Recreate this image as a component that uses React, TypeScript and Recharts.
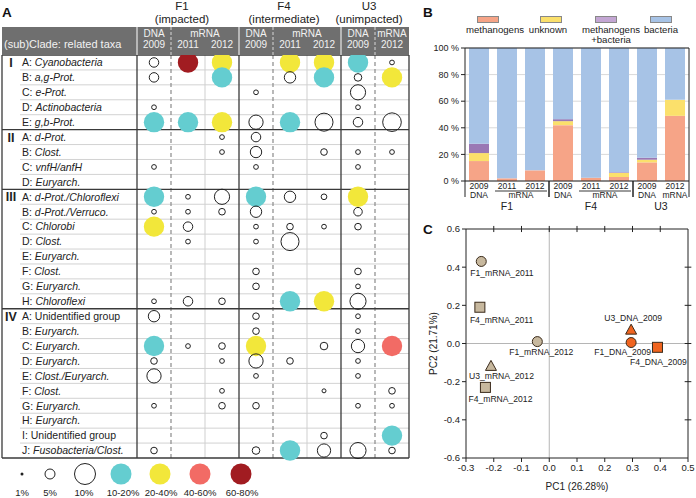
import React from 'react';
import {
  ScatterChart, Scatter, BarChart, Bar, XAxis, YAxis, CartesianGrid, ReferenceLine, Legend,
} from 'recharts';

const FONT = '"Liberation Sans", Arial, Helvetica, sans-serif';
const INK = '#222';

// ---------- panel A: bubble table ----------
const clades = ['I', 'II', 'III', 'IV'];
const cladeSizes = [5, 4, 8, 10];
const taxonIds = [
  'A', 'B', 'C', 'D', 'E',
  'A', 'B', 'C', 'D',
  'A', 'B', 'C', 'D', 'E', 'F', 'G', 'H',
  'A', 'B', 'C', 'D', 'E', 'F', 'G', 'H', 'I', 'J',
];
const taxonNames = [
  'Cyanobacteria', 'a,g-Prot.', 'e-Prot.', 'Actinobacteria', 'g,b-Prot.',
  'd-Prot.', 'Clost.', 'vnfH/anfH', 'Euryarch.',
  'd-Prot./Chloroflexi', 'd-Prot./Verruco.', 'Chlorobi', 'Clost.', 'Euryarch.', 'Clost.', 'Euryarch.', 'Chloroflexi',
  'Unidentified group', 'Euryarch.', 'Euryarch.', 'Euryarch.', 'Clost./Euryarch.', 'Clost.', 'Euryarch.', 'Euryarch.',
  'Unidentified group', 'Fusobacteria/Clost.',
];

const sites = ['F1', 'F4', 'U3'];
const siteStatus = ['(impacted)', '(intermediate)', '(unimpacted)'];
const sampleSites = ['F1', 'F1', 'F1', 'F4', 'F4', 'F4', 'U3', 'U3'];
const sampleTypes = ['DNA', 'mRNA', 'mRNA', 'DNA', 'mRNA', 'mRNA', 'DNA', 'mRNA'];
const sampleYears = ['2009', '2011', '2012', '2009', '2011', '2012', '2009', '2012'];

// relative abundance (%) per taxon, one list per sample column
const f1Dna2009 = [5, 5, 0, 2.5, 15, 0, 0, 2.5, 0, 15, 2.5, 30, 0, 0, 0, 0, 2.5, 6, 0, 15, 3.5, 7.5, 0, 2.5, 0, 0, 3.5];
const f1Rna2011 = [70, 0, 0, 0, 15, 0, 0, 0, 0, 2.5, 2.5, 5, 2.5, 0, 0, 0, 5, 0, 0, 2.5, 0, 0, 0, 0, 0, 0, 0];
const f1Rna2012 = [30, 15, 0, 0, 30, 2.5, 2.5, 0, 0, 8, 3.5, 0, 0, 0, 0, 0, 3.5, 0, 0, 3.5, 2.5, 0, 2.5, 3.5, 0, 0, 0];
const f4Dna2009 = [0, 0, 2.5, 0, 7.5, 5, 6, 2.5, 0, 15, 6, 2.5, 2.5, 0, 3.5, 3.5, 0, 3.5, 3.5, 30, 7.5, 2.5, 0, 3.5, 0, 0, 4];
const f4Rna2011 = [30, 6, 0, 0, 15, 0, 0, 0, 0, 6, 0, 3.5, 9.5, 0, 0, 0, 15, 0, 0, 0, 3.5, 0, 0, 0, 0, 0, 15];
const f4Rna2012 = [30, 15, 0, 0, 9.5, 0, 3.5, 0, 0, 3, 0, 2.5, 0, 0, 0, 0, 30, 0, 0, 4, 0, 0, 2, 0, 0, 3.5, 7];
const u3Dna2009 = [15, 4, 8, 2.5, 5, 0, 2.5, 2.5, 0, 30, 4.5, 3.5, 0, 0, 3.5, 2.5, 8.5, 2.5, 2.5, 7, 2.5, 2.5, 0, 2.5, 0, 0, 8.5];
const u3Rna2012 = [2.5, 30, 0, 0, 9.8, 0, 2.5, 0, 0, 0, 0, 0, 0, 0, 0, 0, 0, 0, 0, 50, 0, 0, 3.5, 2.5, 0, 15, 3.5];
const sampleColumns = [f1Dna2009, f1Rna2011, f1Rna2012, f4Dna2009, f4Rna2011, f4Rna2012, u3Dna2009, u3Rna2012];

const sizeLegend = [1, 5, 10];
const classLegend = ['10-20%', '20-40%', '40-60%', '60-80%'];
const classColors = ['#64cdd0', '#f2e73a', '#f26b65', '#a11c21'];

// ---------- panel B: stacked bars ----------
const bYears = ['2009', '2011', '2012', '2009', '2011', '2012', '2009', '2012'];
const bTypes = ['DNA', 'mRNA', 'mRNA', 'DNA', 'mRNA', 'mRNA', 'DNA', 'mRNA'];
const bSites = ['F1', 'F1', 'F1', 'F4', 'F4', 'F4', 'U3', 'U3'];
const methanogens = [15, 2, 8, 42, 2.5, 3, 14, 49];
const unknown = [6, 0, 0, 3, 0, 3, 2, 12];
const methanogensBacteria = [7, 0, 0, 1.5, 0, 0.5, 1.5, 0];
const bacteria = [72, 98, 92, 53.5, 97.5, 93.5, 82.5, 39];
const bGroups = ['methanogens', 'unknown', 'methanogens +bacteria', 'bacteria'];
const bPercentTicks = [0, 20, 40, 60, 80, 100];

// ---------- panel C: PCA ----------
const pcaNames = ['F1_mRNA_2011', 'F4_mRNA_2011', 'F1_mRNA_2012', 'U3_DNA_2009', 'F1_DNA_2009', 'F4_DNA_2009', 'U3_mRNA_2012', 'F4_mRNA_2012'];
const pc1 = [-0.245, -0.25, -0.043, 0.295, 0.295, 0.39, -0.21, -0.23];
const pc2 = [0.43, 0.19, 0.01, 0.07, 0.005, -0.02, -0.12, -0.23];
const pc1Ticks = [-0.3, -0.2, -0.1, 0, 0.1, 0.2, 0.3, 0.4, 0.5];
const pc2Ticks = [-0.6, -0.4, -0.2, 0, 0.2, 0.4, 0.6];
const pc1FrameTicks = [-0.2, -0.1, 0, 0.1, 0.2, 0.3, 0.4];
const pc2FrameTicks = [-0.4, -0.2, 0, 0.2, 0.4];

// ---------- layout / styling ----------
const A_W = 412;
const A_H = 498;
const A_TOP = 55;
const A_BOTTOM = 40;
const A_LEFT = 2;
const A_RIGHT = 3;
const COL_PX = 34;
const LABEL_LEFT = -0.5 - 135 / COL_PX; // label column expressed in column units
const ROW_LINE_LEFT = LABEL_LEFT + 18 / COL_PX;
const colPx = (c: number) => A_LEFT + (c - LABEL_LEFT) * COL_PX;

const cladeStart: Record<number, string> = {};
let acc = 0;
clades.forEach((c, i) => { cladeStart[acc] = c; acc += cladeSizes[i]; });
const sectionBreaks = [5, 9, 17].map((r) => r - 0.5);

const cells = sampleColumns.flatMap((col, c) =>
  col.map((value, row) => ({ col: c, row, value })).filter((d) => d.value > 0)
);
const rowTicks = taxonNames.map((_, i) => i);

const classColor = (v: number) => (v >= 60 ? classColors[3] : v >= 40 ? classColors[2] : v >= 20 ? classColors[1] : classColors[0]);

const Bubble = (props: any) => {
  const { cx, cy, payload } = props;
  const v = payload.value;
  if (v >= 10) return <circle cx={cx} cy={cy} r={10.2} fill={classColor(v)} />;
  return <circle cx={cx} cy={cy} r={Math.max(2, v * 0.95)} fill="none" stroke={INK} strokeWidth={1} />;
};

const RowLabel = (props: any) => {
  const { y, payload } = props;
  const i = payload.value as number;
  const clade = cladeStart[i];
  const plain = taxonNames[i] === 'Unidentified group';
  return (
    <g>
      {clade && (
        <text x={11} y={y} dy={4.5} textAnchor="middle" fontWeight="bold" fontSize={12.5} fill={INK} fontFamily={FONT}>
          {clade}
        </text>
      )}
      <text x={22} y={y} dy={3.8} textAnchor="start" fontSize={10.5} fill={INK} fontFamily={FONT}>
        <tspan>{`${taxonIds[i]}: `}</tspan>
        <tspan fontStyle={plain ? 'normal' : 'italic'}>{taxonNames[i]}</tspan>
      </text>
    </g>
  );
};

function PanelA() {
  const rowLines = rowTicks.slice(0, -1).map((r) => r + 0.5).filter((y) => !sectionBreaks.includes(y));
  const headerTop = 27;
  const headerBottom = A_TOP;
  const siteCols = sites.map((s) => sampleSites.map((x, i) => (x === s ? i : -1)).filter((i) => i >= 0));
  return (
    <div style={{ position: 'relative', width: A_W, height: A_H }}>
      <ScatterChart width={A_W} height={A_H} margin={{ top: A_TOP, right: A_RIGHT, bottom: A_BOTTOM, left: A_LEFT }}>
        <XAxis type="number" dataKey="col" domain={[LABEL_LEFT, 7.5]} hide />
        <YAxis
          type="number"
          dataKey="row"
          domain={[-0.5, 26.5]}
          reversed
          ticks={rowTicks}
          interval={0}
          width={1}
          mirror
          axisLine={false}
          tickLine={false}
          tick={RowLabel}
        />
        {rowLines.map((y) => (
          <ReferenceLine key={`r${y}`} segment={[{ x: ROW_LINE_LEFT, y }, { x: 7.5, y }]} stroke="#d2d2d2" strokeWidth={1} />
        ))}
        {[1.5, 4.5].map((x) => (
          <ReferenceLine key={`g${x}`} x={x} stroke="#cfcfcf" strokeWidth={1} />
        ))}
        {[0.5, 3.5, 6.5].map((x) => (
          <ReferenceLine key={`d${x}`} x={x} stroke="#8a8a8a" strokeWidth={1.2} strokeDasharray="4 3" />
        ))}
        {[LABEL_LEFT, -0.5, 2.5, 5.5, 7.5].map((x) => (
          <ReferenceLine key={`v${x}`} x={x} stroke="#3a3a3a" strokeWidth={1.3} />
        ))}
        {[-0.5, ...sectionBreaks, 26.5].map((y) => (
          <ReferenceLine key={`s${y}`} y={y} stroke="#3a3a3a" strokeWidth={1.3} />
        ))}
        <Scatter data={cells} shape={Bubble} isAnimationActive={false} />
      </ScatterChart>

      <svg width={A_W} height={A_H} style={{ position: 'absolute', left: 0, top: 0, pointerEvents: 'none' }} fontFamily={FONT}>
        <rect x={A_LEFT} y={headerTop} width={colPx(7.5) - A_LEFT} height={headerBottom - headerTop} fill="#6f6f6f" />
        {[-0.5, 2.5, 5.5].map((c) => (
          <line key={c} x1={colPx(c)} x2={colPx(c)} y1={headerTop} y2={headerBottom} stroke="#e8e8e8" strokeWidth={1.2} />
        ))}
        {[0.5, 3.5, 6.5].map((c) => (
          <line key={c} x1={colPx(c)} x2={colPx(c)} y1={headerTop} y2={headerBottom} stroke="#d8d8d8" strokeWidth={1} strokeDasharray="3 2" />
        ))}
        <text x={4} y={48} fontSize={11} fill="#f2f2f2">(sub)Clade: related taxa</text>
        {sampleTypes.map((t, i) => {
          const next = sampleTypes[i + 1] === t && sampleSites[i + 1] === sampleSites[i];
          const prev = sampleTypes[i - 1] === t && sampleSites[i - 1] === sampleSites[i];
          const x = colPx(i);
          return (
            <g key={i} fill="#f2f2f2" fontSize={10} textAnchor="middle">
              {!prev && <text x={next ? x + COL_PX / 2 : x} y={37}>{t}</text>}
              <text x={x} y={47.5}>{sampleYears[i]}</text>
            </g>
          );
        })}
        {sites.map((s, k) => {
          const cols = siteCols[k];
          const cx = (colPx(cols[0] - 0.5) + colPx(cols[cols.length - 1] + 0.5)) / 2 - 6;
          return (
            <g key={s} textAnchor="middle" fill={INK} fontSize={11.5}>
              <text x={cx} y={9.5}>{s}</text>
              <text x={cx} y={23}>{siteStatus[k]}</text>
            </g>
          );
        })}

        {/* size / class legend */}
        <g fontSize={9.5} fill={INK} textAnchor="middle">
          <circle cx={22} cy={474} r={1.5} fill={INK} />
          <circle cx={50} cy={474} r={5} fill="none" stroke={INK} />
          <circle cx={85} cy={474} r={10.5} fill="none" stroke={INK} />
          {sizeLegend.map((s, i) => (
            <text key={s} x={[22, 50, 84][i]} y={496}>{`${s}%`}</text>
          ))}
          {classLegend.map((l, i) => (
            <g key={l}>
              <circle cx={[121, 160, 200, 241][i]} cy={474} r={10.5} fill={classColors[i]} />
              <text x={[123, 161, 200, 242][i]} y={496}>{l}</text>
            </g>
          ))}
        </g>
      </svg>
    </div>
  );
}

// ---------- panel B ----------
const B_W = 276;
const B_H = 215;
const B_MARGIN = { top: 48, right: 7, bottom: 0, left: 0 };
const B_YAXIS_W = 45;
const B_XAXIS_H = 34;
const B_BAND = (B_W - B_MARGIN.left - B_MARGIN.right - B_YAXIS_W) / bYears.length;
const B_AXIS_Y = B_H - B_MARGIN.bottom - B_XAXIS_H;

const bData = bYears.map((year, i) => ({
  key: `${bSites[i]} ${bTypes[i]} ${year}`,
  methanogens: methanogens[i],
  unknown: unknown[i],
  both: methanogensBacteria[i],
  bacteria: bacteria[i],
}));

const bColors = ['#f6a487', '#fbe06b', '#9a78b4', '#a7c3e6'];
const bLegendColors = ['#f6a487', '#fbe06b', '#c3a6d3', '#a7c3e6'];

const BTick = (props: any) => {
  const { x, index } = props;
  const i = index as number;
  const y0 = B_AXIS_Y;
  const site = bSites[i];
  const firstOfSite = i === 0 || bSites[i - 1] !== site;
  const lastOfSite = i === bSites.length - 1 || bSites[i + 1] !== site;
  const isLast = i === bSites.length - 1;
  const siteCount = bSites.filter((s) => s === site).length;
  const pairNext = bTypes[i + 1] === bTypes[i] && bSites[i + 1] === site;
  const pairPrev = bTypes[i - 1] === bTypes[i] && bSites[i - 1] === site;
  return (
    <g fontFamily={FONT} fill={INK} textAnchor="middle">
      <text x={x} y={y0 + 8} fontSize={8.5}>{bYears[i]}</text>
      {!pairPrev && (
        <text x={pairNext ? x + B_BAND / 2 : x} y={y0 + 17} fontSize={8.5}>{bTypes[i]}</text>
      )}
      {pairNext && (
        <line x1={x - 12} x2={x + B_BAND + 12} y1={y0 + 10} y2={y0 + 10} stroke={INK} strokeWidth={0.9} />
      )}
      {firstOfSite && (
        <>
          <text x={x + ((siteCount - 1) / 2) * B_BAND} y={y0 + 29} fontSize={10.5}>{site}</text>
          <line x1={x - B_BAND / 2} x2={x - B_BAND / 2} y1={y0} y2={y0 + 16} stroke={INK} strokeWidth={1} />
        </>
      )}
      {lastOfSite && (
        <line
          x1={x + B_BAND / 2}
          x2={x + B_BAND / 2}
          y1={isLast ? B_MARGIN.top : y0}
          y2={y0 + 16}
          stroke={INK}
          strokeWidth={1}
        />
      )}
    </g>
  );
};

const legendBoxX = [57, 120, 175, 230];
const legendTextX = [75, 128, 191, 241];

const BLegend = () => (
  <div style={{ position: 'relative', width: B_W, height: 44, fontFamily: FONT, fontSize: 9.6, color: INK }}>
    {bGroups.map((g, i) => {
      const lines = g.split(' +');
      return (
        <React.Fragment key={g}>
          <div
            style={{
              position: 'absolute', left: legendBoxX[i], top: 16, width: 22, height: 7,
              background: bLegendColors[i], border: '1px solid #888', boxSizing: 'border-box',
            }}
          />
          <div style={{ position: 'absolute', left: legendTextX[i] - 40, top: 25, width: 80, textAlign: 'center', lineHeight: '9.5px' }}>
            {lines.map((l, k) => (
              <div key={l}>{k > 0 ? `+${l}` : l}</div>
            ))}
          </div>
        </React.Fragment>
      );
    })}
  </div>
);

const bKeys = ['methanogens', 'unknown', 'both', 'bacteria'];

function PanelB() {
  return (
    <BarChart width={B_W} height={B_H} data={bData} margin={B_MARGIN} barSize={20}>
      <CartesianGrid vertical={false} stroke="#d9d9d9" />
      <XAxis dataKey="key" height={B_XAXIS_H} interval={0} tickLine={false} axisLine={{ stroke: INK }} tick={BTick} />
      <YAxis
        domain={[0, 100]}
        ticks={bPercentTicks}
        width={B_YAXIS_W}
        tickFormatter={(v: number) => `${v} %`}
        tick={{ fontSize: 9, fill: INK, fontFamily: FONT }}
        tickSize={4}
        tickMargin={2}
        axisLine={{ stroke: INK }}
        tickLine={{ stroke: INK }}
      />
      <ReferenceLine y={100} stroke={INK} />
      <Legend
        verticalAlign="middle"
        align="center"
        layout="horizontal"
        wrapperStyle={{ position: 'absolute', left: 0, top: 0, width: B_W, height: 44 }}
        content={BLegend}
      />
      {bKeys.map((k, i) => (
        <Bar key={k} dataKey={k} name={bGroups[i]} stackId="s" fill={bColors[i]} isAnimationActive={false} />
      ))}
    </BarChart>
  );
}

// ---------- panel C ----------
const pcaData = pcaNames.map((name, i) => ({ name, x: pc1[i], y: pc2[i] }));
const pcaLabelPlacement: Record<string, { dx: number; dy: number; anchor: string }> = {
  F1_mRNA_2011: { dx: -11, dy: 15, anchor: 'start' },
  F4_mRNA_2011: { dx: -10, dy: 15.5, anchor: 'start' },
  F1_mRNA_2012: { dx: 4, dy: 13.5, anchor: 'middle' },
  U3_DNA_2009: { dx: 2, dy: -9.5, anchor: 'middle' },
  F1_DNA_2009: { dx: 20, dy: 12.5, anchor: 'end' },
  F4_DNA_2009: { dx: 1, dy: 17.5, anchor: 'middle' },
  U3_mRNA_2012: { dx: -22, dy: 12.5, anchor: 'start' },
  F4_mRNA_2012: { dx: -17, dy: 14.5, anchor: 'start' },
};

const PcaMarker = (props: any) => {
  const { cx, cy, payload } = props;
  const [site, type] = String(payload.name).split('_');
  const fill = type === 'DNA' ? '#f0641f' : '#c7b89e';
  const stroke = '#3a2a1a';
  const lab = pcaLabelPlacement[payload.name];
  let marker;
  if (site === 'F1') marker = <circle cx={cx} cy={cy} r={5} fill={fill} stroke={stroke} strokeWidth={1} />;
  else if (site === 'F4') marker = <rect x={cx - 5} y={cy - 5} width={10} height={10} fill={fill} stroke={stroke} strokeWidth={1} />;
  else marker = <polygon points={`${cx},${cy - 6} ${cx + 5.5},${cy + 4} ${cx - 5.5},${cy + 4}`} fill={fill} stroke={stroke} strokeWidth={1} />;
  return (
    <g>
      {marker}
      <text x={cx + lab.dx} y={cy + lab.dy} textAnchor={lab.anchor as any} fontSize={8.6} fill={INK} fontFamily={FONT}>
        {payload.name}
      </text>
    </g>
  );
};

const fmt1 = (v: number) => v.toFixed(1);
const C_TICK_DX = 0.012; // ~3px in PC1 units
const C_TICK_DY = 0.016; // ~3px in PC2 units

function PanelC() {
  return (
    <ScatterChart width={276} height={283} margin={{ top: 14, right: 8, bottom: 0, left: 0 }}>
      <XAxis
        type="number"
        dataKey="x"
        domain={[-0.3, 0.5]}
        ticks={pc1Ticks}
        interval={0}
        height={40}
        tickSize={4}
        tickMargin={2}
        tickFormatter={fmt1}
        tick={{ fontSize: 9.5, fill: INK, fontFamily: FONT }}
        axisLine={{ stroke: INK }}
        tickLine={{ stroke: INK }}
        label={{ value: 'PC1 (26.28%)', position: 'insideBottom', offset: 8, fontSize: 10, fill: INK, fontFamily: FONT }}
      />
      <YAxis
        type="number"
        dataKey="y"
        domain={[-0.6, 0.6]}
        ticks={pc2Ticks}
        interval={0}
        width={46}
        tickSize={4}
        tickMargin={2}
        tickFormatter={fmt1}
        tick={{ fontSize: 9.5, fill: INK, fontFamily: FONT }}
        axisLine={{ stroke: INK }}
        tickLine={{ stroke: INK }}
        label={(p: any) => {
          const vb = p.viewBox || {};
          const cx = (vb.x ?? 0) + 13;
          const cy = (vb.y ?? 0) + (vb.height ?? 0) / 2;
          return (
            <text x={cx} y={cy} transform={`rotate(-90 ${cx} ${cy})`} textAnchor="middle" dominantBaseline="central" fontSize={10} fill={INK} fontFamily={FONT}>
              PC2 (21.71%)
            </text>
          );
        }}
      />
      <ReferenceLine x={0} stroke="#b5b5b5" />
      <ReferenceLine y={0} stroke="#b5b5b5" />
      {/* frame: top and right edges with their tick marks */}
      <ReferenceLine y={0.6} stroke={INK} />
      <ReferenceLine x={0.5} stroke={INK} />
      {pc1FrameTicks.map((t) => (
        <ReferenceLine
          key={`tx${t}`}
          ifOverflow="visible"
          segment={[{ x: t, y: 0.6 - C_TICK_DY }, { x: t, y: 0.6 + C_TICK_DY }]}
          stroke={INK}
        />
      ))}
      {pc2FrameTicks.map((t) => (
        <ReferenceLine
          key={`ty${t}`}
          ifOverflow="visible"
          segment={[{ x: 0.5 - C_TICK_DX, y: t }, { x: 0.5 + C_TICK_DX, y: t }]}
          stroke={INK}
        />
      ))}
      <Scatter data={pcaData} shape={PcaMarker} isAnimationActive={false} />
    </ScatterChart>
  );
}

export default function App() {
  return (
    <div style={{ position: 'absolute', left: 0, top: 0, width: 696, height: 498, background: '#fff', overflow: 'hidden', fontFamily: FONT }}>
      <div style={{ position: 'absolute', left: 0, top: 0 }}>
        <PanelA />
      </div>
      <div style={{ position: 'absolute', left: 420, top: 0 }}>
        <PanelB />
      </div>
      <div style={{ position: 'absolute', left: 420, top: 215 }}>
        <PanelC />
      </div>
      <svg width={696} height={498} style={{ position: 'absolute', left: 0, top: 0, pointerEvents: 'none' }} fontFamily={FONT}>
        <g fontWeight="bold" fontSize={13.5} fill="#111">
          <text x={2} y={17}>A</text>
          <text x={423} y={17}>B</text>
          <text x={423} y={234}>C</text>
        </g>
      </svg>
    </div>
  );
}
